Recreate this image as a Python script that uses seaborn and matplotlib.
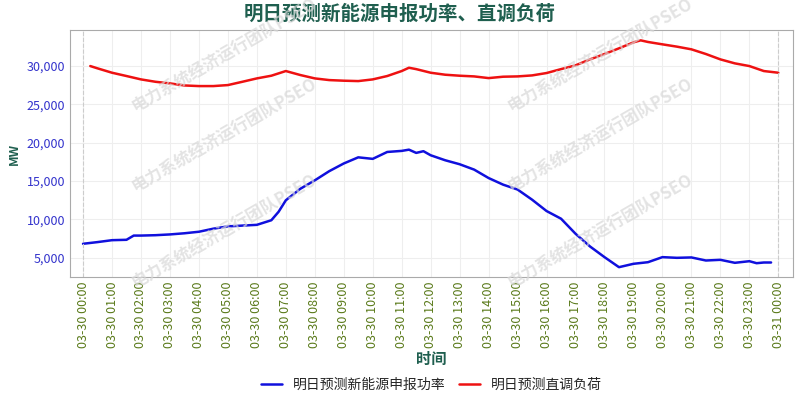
import numpy as np
import pandas as pd
import matplotlib
matplotlib.use("Agg")
import matplotlib.pyplot as plt
import seaborn as sns

# hours since 03-30 00:00
blue_hours = [0, 0.5, 1, 1.5, 1.75, 2, 2.5, 3, 3.5, 4, 4.5, 5, 5.5, 6, 6.5, 6.75, 7, 7.5, 8, 8.5, 9,
              9.5, 10, 10.5, 11, 11.25, 11.5, 11.75, 12, 12.5, 13, 13.5, 14, 14.5, 15, 15.5, 16, 16.5,
              17, 17.5, 18, 18.5, 19, 19.5, 20, 20.5, 21, 21.5, 22, 22.5, 23, 23.25, 23.5, 23.75]
blue_vals = [6830, 7050, 7300, 7350, 7900, 7900, 7950, 8050, 8200, 8400, 8800, 9100, 9200, 9300, 9900,
             11000, 12500, 14000, 15100, 16300, 17300, 18100, 17900, 18800, 18940, 19100, 18680, 18900,
             18370, 17720, 17200, 16500, 15400, 14540, 13900, 12580, 11100, 10100, 8140, 6480, 5090,
             3780, 4220, 4430, 5090, 5000, 5050, 4650, 4740, 4350, 4560, 4300, 4390, 4390]
red_hours = [0.25, 0.5, 1, 1.5, 2, 2.5, 3, 3.5, 4, 4.5, 5, 5.5, 6, 6.5, 7, 7.5, 8, 8.5, 9, 9.5, 10,
             10.5, 11, 11.25, 11.5, 12, 12.5, 13, 13.5, 14, 14.5, 15, 15.5, 16, 16.5, 17, 17.5, 18,
             18.5, 19, 19.25, 19.5, 20, 20.5, 21, 21.5, 22, 22.5, 23, 23.5, 24]
red_vals = [30000, 29700, 29130, 28700, 28260, 27950, 27740, 27470, 27390, 27390, 27520, 27950, 28390,
            28740, 29350, 28830, 28390, 28170, 28090, 28040, 28260, 28700, 29350, 29780, 29600, 29130,
            28870, 28740, 28650, 28430, 28610, 28650, 28780, 29090, 29600, 30090, 30870, 31570, 32310,
            33090, 33350, 33140, 32830, 32530, 32180, 31570, 30870, 30350, 30000, 29350, 29130]
tick_labels = ["03-30 %02d:00" % h for h in range(24)] + ["03-31 00:00"]

name_blue = "明日预测新能源申报功率"
name_red = "明日预测直调负荷"

sns.set_style("white")
plt.rcParams['font.family'] = ['Noto Sans CJK SC', 'DejaVu Sans']

fig = plt.figure(figsize=(8, 4), dpi=100)
ax = fig.add_axes([0.0875, 0.3075, 0.9035, 0.6175])

df_b = pd.DataFrame({"h": blue_hours, "v": blue_vals})
df_r = pd.DataFrame({"h": red_hours, "v": red_vals})
sns.lineplot(data=df_b, x="h", y="v", color="#1010dd", lw=1.8, ax=ax, label=name_blue)
sns.lineplot(data=df_r, x="h", y="v", color="#ee1111", lw=1.8, ax=ax, label=name_red)

ax.set_xlim(-0.45, 24.5)
ax.set_ylim(2500, 34700)
ax.set_xticks(range(25))
ax.set_xticklabels(tick_labels, rotation=90, color="#5a7a1a", fontsize=9)
ax.set_yticks([5000, 10000, 15000, 20000, 25000, 30000])
ax.set_yticklabels(["{:,}".format(v) for v in [5000, 10000, 15000, 20000, 25000, 30000]],
                   color="#3333cc", fontsize=9)
ax.grid(True, color="#eeeeee", lw=0.8)
for x in (0, 24):
    ax.axvline(x, color="#cccccc", ls="--", lw=0.8)
for s in ax.spines.values():
    s.set_color("#aaaaaa")
ax.tick_params(length=0)
ax.set_xlabel("时间", color="#1f5f4f", fontweight="bold", fontsize=11, labelpad=2)
ax.set_ylabel("MW", color="#1f5f4f", fontweight="bold", fontsize=9)
fig.text(0.5, 0.965, "明日预测新能源申报功率、直调负荷", ha="center", va="center",
         fontsize=14, fontweight="bold", color="#1f5f4f")

# watermark
for (x, y) in [(0.28, 0.86), (0.28, 0.66), (0.28, 0.42), (0.75, 0.86), (0.75, 0.66), (0.75, 0.42)]:
    fig.text(x, y, "电力系统经济运行团队PSEO", rotation=30, ha="center", va="center",
             fontsize=12, fontweight="bold", color="#d8d8d8", alpha=0.7)

ax.legend(loc="center", bbox_to_anchor=(0.5, -0.435), ncol=2, frameon=False,
          fontsize=10, handlelength=1.5, columnspacing=1.0, borderpad=0)
fig.savefig("out.png", dpi=100)
